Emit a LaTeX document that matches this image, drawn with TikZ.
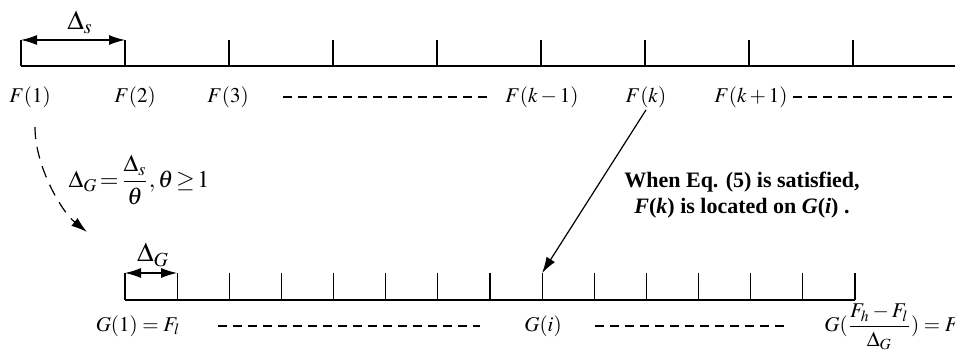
\documentclass[tikz,border=0pt]{standalone}
\usepackage{amsmath}
\usepackage{mathptmx}
\usepackage{fontspec}
\setmainfont{Liberation Serif}
\usetikzlibrary{arrows.meta}

\begin{document}
\begin{tikzpicture}[x=0.5pt, y=-0.5pt,
    axis/.style={line width=0.8pt},
    tick/.style={line width=0.6pt},
    lbl/.style={inner sep=1pt, font=\fontsize{10.5}{12}\selectfont},
    big/.style={inner sep=1pt, font=\fontsize{13.5}{15}\selectfont},
    note/.style={inner sep=1pt, align=center, font=\fontsize{11}{13}\selectfont\bfseries},
    gap/.style={line width=0.6pt, dash pattern=on 4.5pt off 3pt},
    dim/.style={{Latex[length=8pt,width=5pt]}-{Latex[length=8pt,width=5pt]}, line width=0.6pt},
    arr/.style={-{Latex[length=8pt,width=5pt]}, line width=0.6pt},
    darr/.style={-{Latex[length=8pt,width=5pt]}, line width=0.6pt, dash pattern=on 6pt off 4pt}
]
    \useasboundingbox (0,0) rectangle (955,363);

    % upper axis, step Delta_s
    \draw[axis] (21,66) -- (955,66);
    \foreach \x in {21,125,...,853} \draw[tick] (\x,66) -- (\x,40);
    \coordinate (s1) at (21,40);
    \coordinate (s2) at (125,40);
    \draw[dim] (s1) -- (s2);
    \node[big] (ds) at (80,22) {$\Delta_s$};

    \node[lbl] (f1)  at (30,97)  {$F(1)$};
    \node[lbl] (f2)  at (135,97) {$F(2)$};
    \node[lbl] (f3)  at (228,97) {$F(3)$};
    \node[lbl] (fkm) at (542,97) {$F(k-1)$};
    \node[lbl] (fk)  at (646,97) {$F(k)$};
    \node[lbl] (fkp) at (751,97) {$F(k+1)$};
    \draw[gap] (283,97) -- (490,97);
    \draw[gap] (793,97) -- (955,97);

    % lower axis, step Delta_G
    \draw[axis] (125,300) -- (855,300);
    \foreach \i in {0,...,14} \draw[tick] (125+\i*52.14,300) -- ++(0,-27);
    \coordinate (g1) at (125,273);
    \coordinate (g2) at (177.14,273);
    \coordinate (gi) at (542.1,273);
    \draw[dim] (g1) -- (g2);
    \node[big] (dg) at (153,255) {$\Delta_G$};

    \node[lbl] (gone) at (138,326) {$G(1)=F_l$};
    \node[lbl] (gii)  at (543,326) {$G(i)$};
    \node[lbl, anchor=west] (gend) at (822,327) {$G(\dfrac{F_h-F_l}{\Delta_G})=F_h$};
    \draw[gap] (218,326) -- (480,326);
    \draw[gap] (595,326) -- (788,326);

    % refinement of the step
    \node[lbl, font=\fontsize{12}{14}\selectfont] (rel) at (139,180)
        {$\Delta_G\!=\!\dfrac{\Delta_s}{\theta},\theta\!\geq\!1$};
    \coordinate (cs) at (35,127);
    \coordinate (ce) at (87,232);
    \draw[darr] (cs) .. controls +(0,40) and +(-25,-20) .. (ce);

    % F(k) falls on G(i)
    \draw[arr] (fk.south) -- (gi);
    \node[note] (cond) at (742,195) {When Eq. (5) is satisfied,\\
        \textit{F}(\textit{k}) is located on \textit{G}(\textit{i}) .};
\end{tikzpicture}
\end{document}
